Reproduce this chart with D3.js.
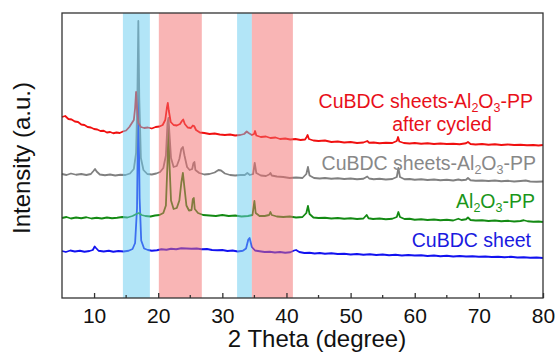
<!DOCTYPE html>
<html>
<head>
<meta charset="utf-8">
<script src="https://cdn.jsdelivr.net/npm/d3@7"></script>
<style>
body { margin: 0; background: #fff; }
text { font-family: "Liberation Sans", Arial, sans-serif; }
</style>
</head>
<body>
<svg id="chart" width="559" height="354"></svg>
<script>
// XRD patterns, 2theta (degree) vs intensity (a.u., stacked offsets)
var cubdcSheet = [[5,940],[5.6,920],[6.3,950],[7,930],[7.8,945],[8.5,925],[9.3,940],[9.8,960],[10.1,1030],[10.3,1000],[10.7,945],[11.5,930],[12.3,945],[13,925],[13.8,940],[14.6,930],[15.4,945],[16,980],[16.4,1100],[16.7,1800],[16.9,4060],[17.1,2000],[17.35,1150],[17.8,990],[18.4,960],[19,945],[19.8,955],[20.5,975],[21.3,965],[22,985],[22.8,975],[23.6,995],[24.4,990],[25.2,985],[26,990],[26.8,975],[27.6,980],[28.4,960],[29.2,955],[30,960],[30.8,940],[31.6,950],[32.4,930],[33.2,945],[33.7,990],[34.05,1170],[34.25,1200],[34.6,1020],[35.1,950],[35.8,935],[36.6,920],[37.4,925],[38.2,910],[39,920],[39.8,905],[40.6,915],[41.2,950],[41.5,960],[42,920],[42.8,900],[43.6,905],[44.4,890],[45.2,900],[46,885],[47,895],[48,880],[49,885],[50,870],[51,880],[52,865],[53,875],[54,860],[55,870],[56,855],[57,865],[58,850],[59,860],[60,850],[61,855],[62,840],[63,850],[64,835],[65,845],[66,830],[67,840],[68,830],[69,835],[70,825],[71,830],[72,820],[73,825],[74,815],[75,825],[76,810],[77,815],[78,805],[79,810],[80,800]];

var al2o3PP = [[5,1600],[5.7,1620],[6.4,1590],[7.2,1610],[8,1595],[8.8,1615],[9.6,1590],[10.4,1605],[11.2,1590],[12,1610],[12.8,1595],[13.6,1605],[14.4,1620],[15.2,1610],[16,1640],[16.6,1680],[17,1700],[17.4,1660],[18,1640],[18.8,1630],[19.5,1650],[20.2,1660],[20.8,1700],[21.2,1850],[21.45,2700],[21.6,3420],[21.75,2700],[22,1950],[22.4,1780],[22.9,1800],[23.3,1950],[23.6,2300],[23.85,2500],[24.1,2200],[24.4,1850],[24.8,1750],[25.2,1760],[25.4,1980],[25.55,2000],[25.7,1780],[26.2,1700],[27,1660],[28,1650],[29,1640],[30,1660],[31,1640],[32,1650],[33,1630],[34,1640],[34.7,1660],[35,1940],[35.2,1700],[35.8,1640],[36.6,1640],[37.3,1660],[37.5,1720],[37.7,1660],[38.5,1630],[39.5,1620],[40.5,1630],[41.5,1610],[42.5,1620],[43.1,1700],[43.35,1840],[43.6,1680],[44.2,1610],[45,1600],[46,1605],[47,1590],[48,1600],[49,1585],[50,1595],[51,1580],[52,1590],[52.5,1660],[52.8,1595],[53.5,1580],[54.5,1590],[55.5,1575],[56.5,1585],[57.2,1620],[57.45,1720],[57.7,1620],[58.4,1580],[59.2,1585],[60,1565],[61,1575],[62,1560],[63,1570],[64,1555],[65,1565],[66,1550],[66.8,1585],[67.3,1560],[68,1575],[68.3,1610],[68.7,1560],[69.5,1550],[70.5,1555],[71.5,1540],[72.5,1550],[73.5,1535],[74.5,1545],[75.5,1530],[76.5,1540],[77,1555],[77.6,1535],[78.5,1525],[79.3,1530],[80,1520]];

var cubdcAlPP = [[5,2480],[5.7,2460],[6.4,2490],[7.2,2465],[8,2480],[8.8,2460],[9.5,2480],[9.9,2540],[10.15,2580],[10.4,2530],[10.9,2470],[11.7,2455],[12.5,2470],[13.3,2450],[14.1,2465],[14.9,2460],[15.6,2490],[16.2,2580],[16.55,2900],[16.75,4000],[16.9,5540],[17.05,4000],[17.3,2800],[17.7,2560],[18.3,2480],[19,2470],[19.7,2490],[20.3,2520],[20.8,2600],[21.2,2850],[21.45,3500],[21.6,3600],[21.75,3300],[22,2800],[22.4,2620],[22.9,2640],[23.3,2780],[23.6,2980],[23.85,3020],[24.1,2850],[24.5,2620],[24.9,2560],[25.3,2580],[25.5,2700],[25.65,2720],[25.8,2560],[26.4,2500],[27.2,2470],[28,2480],[28.8,2510],[29.4,2560],[29.8,2550],[30.4,2490],[31.2,2460],[32,2450],[32.8,2460],[33.5,2460],[33.9,2500],[34.3,2460],[34.8,2480],[35.05,2700],[35.3,2500],[36,2450],[36.8,2440],[37.3,2470],[37.5,2500],[37.7,2450],[38.5,2430],[39.5,2420],[40.5,2400],[41.5,2410],[42.5,2400],[43.1,2480],[43.35,2620],[43.6,2450],[44.3,2400],[45.2,2390],[46,2400],[47,2385],[48,2395],[49,2380],[50,2390],[51,2375],[52,2385],[52.6,2430],[52.9,2390],[53.6,2375],[54.5,2385],[55.5,2370],[56.5,2380],[57.2,2420],[57.45,2600],[57.7,2420],[58.4,2375],[59.2,2380],[60,2365],[61,2375],[62,2360],[63,2370],[64,2355],[65,2365],[66,2350],[66.8,2370],[67.3,2355],[68,2365],[68.3,2400],[68.7,2355],[69.5,2345],[70.5,2350],[71.5,2340],[72.5,2350],[73.5,2335],[74.5,2345],[75.5,2330],[76.5,2340],[77.3,2350],[78,2330],[79,2325],[80,2330]];

var afterCycled = [[5,3620],[5.5,3640],[6,3580],[6.5,3570],[7,3530],[7.5,3520],[8,3470],[8.5,3460],[9,3420],[9.5,3410],[10,3380],[10.5,3370],[11,3340],[11.5,3345],[12,3310],[12.5,3320],[13,3295],[13.5,3310],[14,3300],[14.5,3330],[15,3350],[15.5,3420],[15.9,3500],[16.2,3560],[16.4,3800],[16.55,4120],[16.7,3800],[16.9,3500],[17.3,3420],[17.8,3400],[18.4,3410],[19,3390],[19.6,3420],[20.2,3430],[20.7,3460],[21.1,3560],[21.35,3800],[21.5,3900],[21.65,3750],[21.95,3520],[22.4,3460],[22.9,3450],[23.4,3480],[23.7,3540],[23.9,3570],[24.15,3480],[24.6,3410],[25.1,3400],[25.4,3450],[25.6,3440],[25.9,3360],[26.5,3310],[27.2,3300],[28,3280],[28.8,3290],[29.6,3270],[30.4,3260],[31.2,3270],[32,3250],[32.8,3260],[33.4,3280],[33.8,3330],[34.1,3300],[34.6,3260],[34.95,3280],[35.1,3340],[35.3,3250],[36,3220],[36.8,3230],[37.5,3200],[38.3,3210],[39,3180],[39.8,3190],[40.6,3170],[41.4,3180],[42.2,3160],[42.9,3170],[43.15,3220],[43.3,3260],[43.5,3180],[44.2,3150],[45,3140],[46,3150],[47,3120],[48,3130],[49,3110],[50,3120],[51,3100],[52,3110],[52.6,3140],[52.9,3105],[53.6,3110],[54.5,3095],[55.5,3105],[56.5,3100],[57.2,3140],[57.4,3220],[57.6,3130],[58.3,3100],[59.2,3090],[60,3100],[61,3085],[62,3095],[63,3080],[64,3090],[65,3080],[66,3085],[67,3075],[68,3095],[68.3,3120],[68.7,3080],[69.5,3070],[70.5,3080],[71.5,3065],[72.5,3075],[73.5,3060],[74.5,3070],[75.5,3060],[76.5,3065],[77.5,3055],[78.5,3060],[79.3,3050],[80,3060]];

// highlighted 2theta ranges
var blueBands = [[14.5, 18.7], [32.3, 34.6]];
var pinkBands = [[20.1, 26.8], [34.6, 41.0]];

var majorTicks = [10, 20, 30, 40, 50, 60, 70, 80];
var minorTicks = [15, 25, 35, 45, 55, 65, 75];

var margin = {top: 13, right: 16, bottom: 56, left: 62};
var width = 559, height = 354;

var svg = d3.select('#chart');

var x = d3.scaleLinear().domain([5, 80]).range([margin.left, width - margin.right]);
var y = d3.scaleLinear().domain([0, 5700]).range([height - margin.bottom, margin.top]);

var line = d3.line().x(d => x(d[0])).y(d => y(d[1]));

var series = [
	{data: cubdcSheet, color: '#1212f0'},
	{data: al2o3PP, color: '#138a13'},
	{data: cubdcAlPP, color: '#808080'},
	{data: afterCycled, color: '#f01010'}
];

series.forEach(s => {
	svg.append('path')
		.datum(s.data)
		.attr('d', line)
		.attr('fill', 'none')
		.attr('stroke', s.color)
		.attr('stroke-width', 1.8)
		.attr('stroke-linejoin', 'round');
});

// bands go over the lines, semi transparent
svg.append('g').selectAll('rect').data(blueBands).enter().append('rect')
	.attr('x', d => x(d[0]))
	.attr('width', d => x(d[1]) - x(d[0]))
	.attr('y', margin.top)
	.attr('height', height - margin.bottom - margin.top)
	.attr('fill', '#66ccf0')
	.attr('opacity', 0.5);

svg.append('g').selectAll('rect').data(pinkBands).enter().append('rect')
	.attr('x', d => x(d[0]))
	.attr('width', d => x(d[1]) - x(d[0]))
	.attr('y', margin.top)
	.attr('height', height - margin.bottom - margin.top)
	.attr('fill', '#f46b6b')
	.attr('opacity', 0.5);

// frame
svg.append('rect')
	.attr('x', margin.left)
	.attr('y', margin.top)
	.attr('width', width - margin.right - margin.left)
	.attr('height', height - margin.bottom - margin.top)
	.attr('fill', 'none')
	.attr('stroke', '#333')
	.attr('stroke-width', 1.3);

// x axis, ticks pointing inward
var xAxis = g => g
	.attr('transform', `translate(0, ${height - margin.bottom})`)
	.call(d3.axisBottom(x).tickValues(majorTicks).tickSize(-5).tickPadding(10).tickFormat(d3.format('d')))
	.call(g => g.select('.domain').remove())
	.call(g => g.selectAll('line').attr('stroke', '#333').attr('stroke-width', 1.3))
	.call(g => g.selectAll('text')
		.attr('font-family', '"Liberation Sans", Arial, sans-serif')
		.attr('font-size', 21)
		.attr('fill', '#111'));

svg.append('g').call(xAxis);

svg.append('g')
	.attr('transform', `translate(0, ${height - margin.bottom})`)
	.selectAll('line').data(minorTicks).enter().append('line')
	.attr('x1', d => x(d)).attr('x2', d => x(d))
	.attr('y1', 0).attr('y2', -3)
	.attr('stroke', '#333').attr('stroke-width', 1.3);

// axis titles
svg.append('text')
	.attr('x', 317).attr('y', 347)
	.attr('text-anchor', 'middle')
	.attr('font-size', 24)
	.attr('fill', '#111')
	.text('2 Theta (degree)');

svg.append('text')
	.attr('transform', 'translate(30, 158) rotate(-90)')
	.attr('text-anchor', 'middle')
	.attr('font-size', 24)
	.attr('fill', '#111')
	.text('Intensity (a.u.)');

// series labels
function labelWithSub(parts, xPos, yPos, color) {
	var t = svg.append('text')
		.attr('x', xPos).attr('y', yPos)
		.attr('text-anchor', 'end')
		.attr('font-size', 19.5)
		.attr('fill', color);
	var shifted = false;
	parts.forEach(p => {
		var ts = t.append('tspan').text(p.t);
		if (p.sub) {
			ts.attr('font-size', 12.5).attr('dy', shifted ? 0 : 4);
			shifted = true;
		} else {
			if (shifted) ts.attr('dy', -4);
			shifted = false;
		}
	});
}

var longName = [{t: 'CuBDC sheets-Al'}, {t: '2', sub: true}, {t: 'O'}, {t: '3', sub: true}, {t: '-PP'}];

labelWithSub(longName, 533, 108, '#e8101a');
svg.append('text')
	.attr('x', 442).attr('y', 131)
	.attr('text-anchor', 'middle')
	.attr('font-size', 19.5)
	.attr('fill', '#e8101a')
	.text('after cycled');
labelWithSub(longName, 536, 170, '#888888');
labelWithSub([{t: 'Al'}, {t: '2', sub: true}, {t: 'O'}, {t: '3', sub: true}, {t: '-PP'}], 535, 208, '#1a961a');
labelWithSub([{t: 'CuBDC sheet'}], 531, 247, '#1a1ae0');
</script>
</body>
</html>
